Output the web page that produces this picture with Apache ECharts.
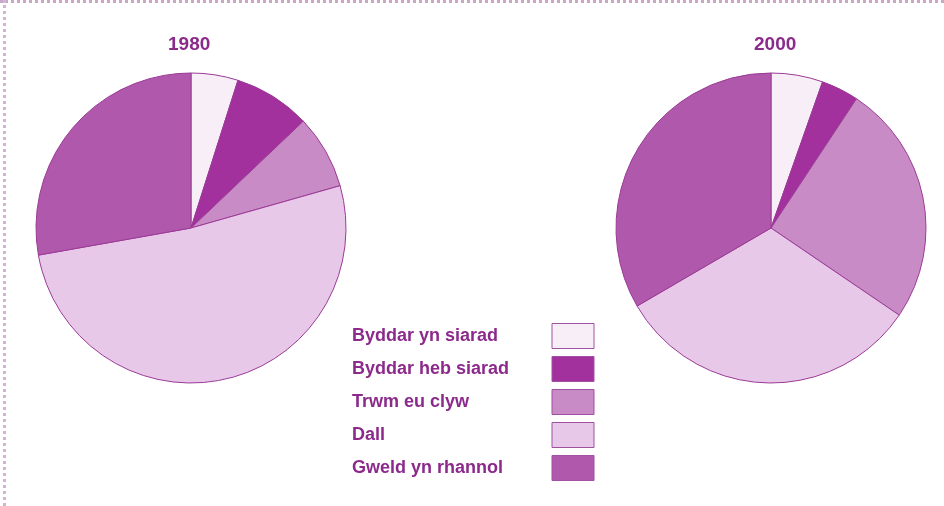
<!DOCTYPE html>
<html><head><meta charset="utf-8">
<script src="https://cdn.jsdelivr.net/npm/echarts@6/dist/echarts.min.js"></script>
<style>
html,body{margin:0;padding:0;background:#fff;}
#wrap{position:relative;width:944px;height:506px;}
#c{position:absolute;left:0;top:0;width:944px;height:506px;}
#bt{position:absolute;left:0;top:0;width:944px;height:0;border-top:3px dotted #c9a7c9;}
#bl{position:absolute;left:3px;top:0;width:0;height:506px;border-left:3px dotted #d4b4d4;}
</style></head>
<body><div id="wrap"><div id="c"></div><div id="bt"></div><div id="bl"></div></div>
<script>
const categories = ['Byddar yn siarad', 'Byddar heb siarad', 'Trwm eu clyw', 'Dall', 'Gweld yn rhannol'];
const years = ['1980', '2000'];
const values1980 = [4.9, 8.0, 7.7, 51.6, 27.8];
const values2000 = [5.4, 3.9, 25.2, 32.1, 33.4];
const colors = ['#f8eef8', '#a2309d', '#c98bc6', '#e8c8e8', '#b058ab'];

const chart = echarts.init(document.getElementById('c'), null, {renderer: 'canvas'});
const txt = '#8c2a8c';
function pie(name, vals, cx) {
  return {
    type: 'pie', name: name, center: [cx, 228], radius: 155, startAngle: 90, clockwise: true,
    label: {show: false}, labelLine: {show: false}, silent: true,
    itemStyle: {borderColor: '#9a3a96', borderWidth: 1},
    data: categories.map((c, i) => ({name: c, value: vals[i]}))
  };
}
const titleStyle = {color: txt, fontFamily: 'Liberation Sans', fontSize: 19, fontWeight: 'bold'};
chart.setOption({
  animation: false,
  color: colors,
  title: [
    {text: years[0], left: 168, top: 35, padding: 0, textStyle: titleStyle},
    {text: years[1], left: 754, top: 35, padding: 0, textStyle: titleStyle}
  ],
  legend: {
    orient: 'vertical', left: 352, top: 323, align: 'right', padding: 0,
    itemWidth: 42, itemHeight: 25, itemGap: 7, icon: 'rect',
    selectedMode: false,
    itemStyle: {borderColor: '#a050a0', borderWidth: 1},
    formatter: n => '{a|' + n + '}',
    textStyle: {color: txt, fontFamily: 'Liberation Sans', fontSize: 18, fontWeight: 'bold',
      rich: {a: {width: 195, height: 25, lineHeight: 25, align: 'left', color: txt, fontFamily: 'Liberation Sans', fontSize: 18, fontWeight: 'bold'}}},
    data: categories
  },
  series: [pie(years[0], values1980, 191), pie(years[1], values2000, 771)]
});
</script></body></html>
